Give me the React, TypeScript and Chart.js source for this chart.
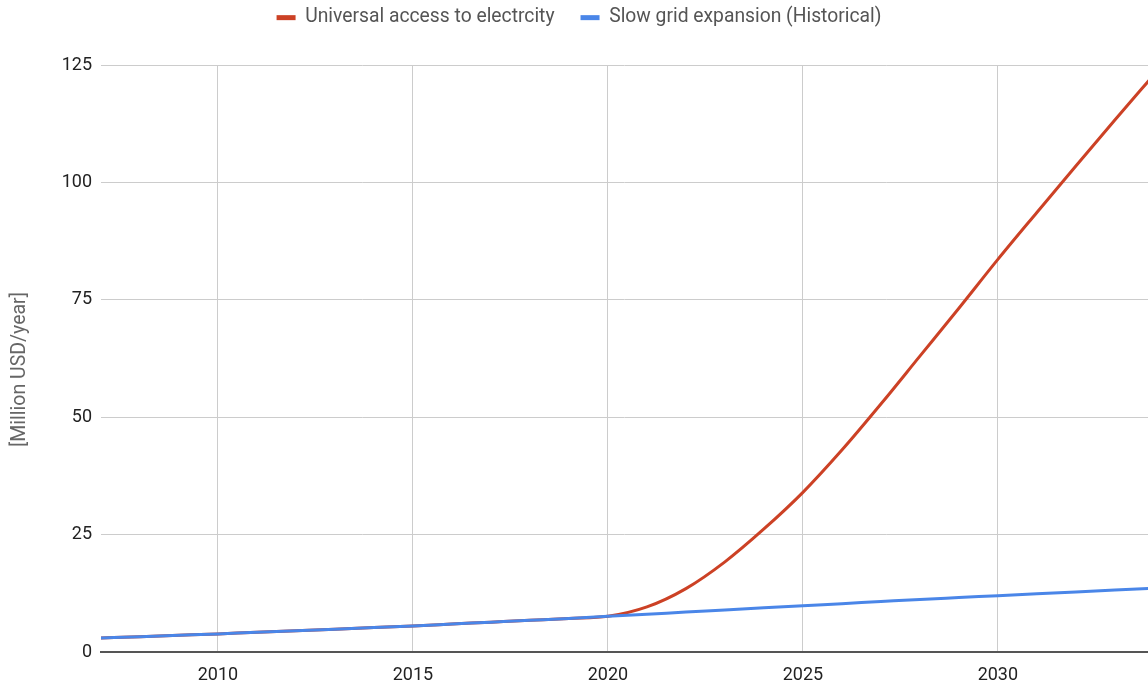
import React, { useEffect, useRef } from "react";
import { Chart, registerables } from "chart.js";

Chart.register(...registerables);

// Years covered by both series
const years: number[] = [
  2007, 2008, 2009, 2010, 2011, 2012, 2013, 2014, 2015, 2016, 2017, 2018, 2019, 2020,
  2021, 2022, 2023, 2024, 2025, 2026, 2027, 2028, 2029, 2030, 2031, 2032, 2033, 2034,
];

// Universal access to electricity scenario [Million USD/year]
const universalAccess: number[] = [
  3.0, 3.25, 3.55, 3.85, 4.2, 4.5, 4.85, 5.2, 5.55, 5.95, 6.35, 6.75, 7.15, 7.6,
  9.6, 13.5, 19.2, 26.2, 34.0, 43.0, 52.8, 63.0, 73.2, 83.6, 93.6, 103.5, 113.3, 122.9,
];

// Slow grid expansion (historical trend) [Million USD/year]
const slowGrid: number[] = [
  3.0, 3.25, 3.55, 3.85, 4.2, 4.5, 4.85, 5.2, 5.55, 5.95, 6.35, 6.75, 7.15, 7.6,
  8.05, 8.5, 8.95, 9.4, 9.85, 10.3, 10.75, 11.2, 11.6, 12.0, 12.4, 12.8, 13.2, 13.6,
];

const xTickYears: number[] = [2010, 2015, 2020, 2025, 2030];
const yTicks: number[] = [0, 25, 50, 75, 100, 125];

const seriesLabels: string[] = [
  "Universal access to electrcity",
  "Slow grid expansion (Historical)",
];
const seriesColors: string[] = ["#cc4125", "#4a86e8"];

const FONT = "Roboto, 'Noto Sans', sans-serif";

export default function App() {
  const canvasRef = useRef<HTMLCanvasElement | null>(null);

  useEffect(() => {
    document.body.style.margin = "0";
    const canvas = canvasRef.current;
    if (!canvas) return;

    const toPoints = (vals: number[]) => years.map((y, i) => ({ x: y, y: vals[i] }));

    const chart = new Chart(canvas, {
      type: "line",
      data: {
        datasets: [
          {
            label: seriesLabels[0],
            data: toPoints(universalAccess),
            borderColor: seriesColors[0],
            backgroundColor: seriesColors[0],
            borderWidth: 3,
            pointRadius: 0,
            cubicInterpolationMode: "monotone",
            order: 1,
          },
          {
            label: seriesLabels[1],
            data: toPoints(slowGrid),
            borderColor: seriesColors[1],
            backgroundColor: seriesColors[1],
            borderWidth: 3,
            pointRadius: 0,
            cubicInterpolationMode: "monotone",
            order: 0,
          },
        ],
      },
      options: {
        animation: false,
        responsive: false,
        maintainAspectRatio: false,
        layout: { padding: { left: 0, right: 0, top: 0, bottom: 0 } },
        plugins: {
          tooltip: { enabled: false },
          legend: {
            display: true,
            position: "top",
            labels: {
              font: { family: FONT, size: 19.3 },
              color: "#555555",
              boxWidth: 19,
              boxHeight: 5,
              padding: 26,
              sort: (a: any, b: any) => a.datasetIndex - b.datasetIndex,
              generateLabels: (ch: any) => {
                const items = Chart.defaults.plugins.legend.labels.generateLabels(ch);
                return items.map((it: any) => ({ ...it, lineWidth: 0 }));
              },
            },
          },
        },
        scales: {
          x: {
            type: "linear",
            min: 2007,
            max: 2033.85,
            afterBuildTicks: (scale: any) => {
              scale.ticks = xTickYears.map((v) => ({ value: v }));
            },
            afterFit: (scale: any) => {
              scale.height = 34;
            },
            ticks: {
              font: { family: FONT, size: 18 },
              color: "#222222",
              padding: 13,
              maxRotation: 0,
              callback: (v: any) => String(v),
            },
            grid: { color: "#cccccc", lineWidth: 1, drawTicks: false },
            border: { display: true, color: "#555555", width: 2 },
          },
          y: {
            type: "linear",
            min: 0,
            max: 125,
            afterBuildTicks: (scale: any) => {
              scale.ticks = yTicks.map((v) => ({ value: v }));
            },
            afterFit: (scale: any) => {
              scale.width = 101;
            },
            ticks: {
              font: { family: FONT, size: 18 },
              color: "#222222",
              padding: 9,
              callback: (v: any) => String(v),
            },
            grid: { color: "#cccccc", lineWidth: 1, drawTicks: false },
            border: { display: false },
            title: {
              display: true,
              text: "[Million USD/year]",
              font: { family: FONT, size: 19.5 },
              color: "#666666",
              padding: { top: 8, bottom: 0 },
            },
          },
        },
      },
      plugins: [
        {
          id: "legendPlacement",
          beforeInit(ch: any) {
            const lg = ch.legend;
            if (lg) {
              const fit = lg.fit;
              lg.fit = function () {
                fit.call(this);
                this.height = 65;
              };
              const draw = lg.draw;
              lg.draw = function () {
                const ctx = this.ctx;
                ctx.save();
                ctx.translate(5, -18);
                draw.call(this);
                ctx.restore();
              };
            }
          },
        },
        {
          id: "yTitleOffset",
          afterLayout(ch: any) {
            const ys = ch.scales.y;
            if (ys && !ys.__titleShifted) {
              const drawTitle = ys.drawTitle;
              ys.drawTitle = function () {
                const ctx = this.ctx;
                ctx.save();
                ctx.translate(0, 11);
                drawTitle.call(this);
                ctx.restore();
              };
              ys.__titleShifted = true;
            }
          },
        },
      ],
    });

    return () => chart.destroy();
  }, []);

  return (
    <div style={{ position: "fixed", left: 0, top: 0, width: 1148, height: 686, background: "#ffffff" }}>
      <canvas ref={canvasRef} width={1148} height={686} style={{ display: "block" }} />
    </div>
  );
}
